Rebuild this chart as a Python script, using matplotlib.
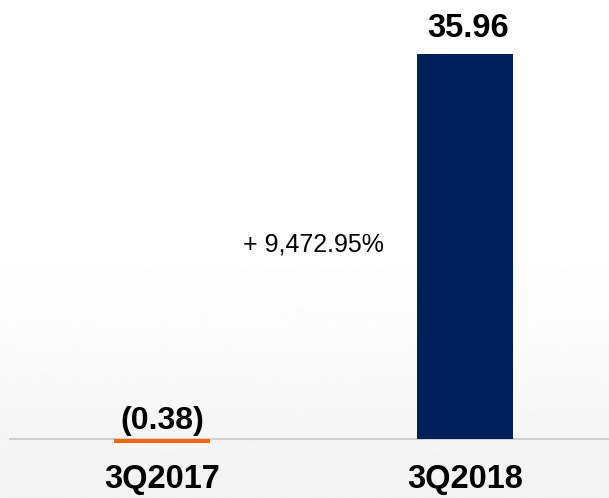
import numpy as np
import matplotlib
matplotlib.use("Agg")
import matplotlib.pyplot as plt

categories = ["3Q2017", "3Q2018"]
values = [-0.38, 35.96]
value_labels = ["(0.38)", "35.96"]
change_label = "+ 9,472.95%"
colors = ["#FF6600", "#00205C"]

plt.rcParams['font.family'] = ['Liberation Sans', 'DejaVu Sans']

fig = plt.figure(figsize=(6.09, 4.98), dpi=100)
# subtle background gradient
bg = fig.add_axes([0, 0, 1, 1], zorder=0)
grad = np.linspace(1.0, 0.0, 256).reshape(-1, 1)
grad = np.clip(grad / 0.5, 0, 1)
bg.imshow(grad, aspect='auto', cmap='gray', vmin=-20, vmax=1, extent=[0, 1, 0, 1])
bg.axis('off')

ax = fig.add_axes([0, 0, 1, 1], zorder=1)
ax.patch.set_alpha(0)
x = np.arange(len(categories))
ax.bar(x, values, width=0.315, color=colors, zorder=3)
ax.set_xlim(-0.535, 1.475)
ax.set_ylim(-5.51, 40.99)
ax.axhline(0, xmin=10/609, xmax=1, color="#d0d0d0", lw=1.5, zorder=2)
ax.axis('off')

ax.text(x[0], 0.93, value_labels[0], ha='center', va='baseline', fontsize=23,
        fontweight='bold', color='black')
ax.text(x[1] + 0.01, 37.54, value_labels[1], ha='center', va='baseline', fontsize=23.5,
        fontweight='bold', color='black')
for xi, c in zip(x, categories):
    ax.text(xi, -4.6, c, ha='center', va='baseline', fontsize=23.5, fontweight='bold',
            color='black')
ax.text(0.5, 17.46, change_label, ha='center', va='baseline', fontsize=18, color='black')

fig.savefig("out.png", dpi=100)
